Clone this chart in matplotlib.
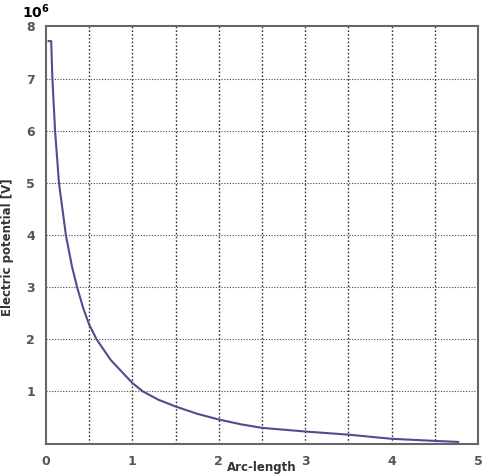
import numpy as np
import matplotlib
matplotlib.use("Agg")
import matplotlib.pyplot as plt

# Data (arc-length vs electric potential in 1e6 V)
arc_length = [0.03, 0.06, 0.074, 0.105, 0.15, 0.23, 0.30, 0.36, 0.43, 0.50, 0.585,
              0.75, 1.00, 1.12, 1.30, 1.50, 1.75, 2.00, 2.25, 2.50, 3.00, 3.50,
              4.00, 4.50, 4.77]
potential = [7.72, 7.72, 7.00, 6.00, 5.00, 4.00, 3.40, 3.00, 2.60, 2.28, 2.00,
             1.60, 1.16, 1.00, 0.84, 0.71, 0.57, 0.46, 0.37, 0.30, 0.23, 0.17,
             0.09, 0.05, 0.03]

x_ticks = [0, 1, 2, 3, 4, 5]
y_ticks = [1, 2, 3, 4, 5, 6, 7, 8]
x_grid = [0.5, 1.0, 1.5, 2.0, 2.5, 3.0, 3.5, 4.0, 4.5]
y_grid = [1, 2, 3, 4, 5, 6, 7]

W, H = 484, 474
fig = plt.figure(figsize=(W/100, H/100), dpi=100)
L, R, T, B = 46, 478, 26.5, 443.5
ax = fig.add_axes([L/W, 1-B/H, (R-L)/W, (B-T)/H])

ax.plot(arc_length, potential, color="#4d4d8f", lw=1.5, solid_joinstyle="round")

ax.set_xlim(0, 5)
ax.set_ylim(0, 8)
ax.set_xticks(x_ticks)
ax.set_yticks(y_ticks)
for g in x_grid:
    ax.axvline(g, color="#333333", lw=1.0, ls=(0, (1.2, 1.5)), zorder=0)
for g in y_grid:
    ax.axhline(g, color="#444444", lw=0.8, ls=(0, (1, 1.5)), zorder=0)

ax.tick_params(length=0, labelsize=9, labelcolor="#555555", pad=8)
for lab in ax.get_xticklabels() + ax.get_yticklabels():
    lab.set_fontweight("bold")
for s in ax.spines.values():
    s.set_color("#666666")
    s.set_linewidth(1.5)

fig.text(262/W, 0.5/H, "Arc-length", fontsize=8.5, color="#333333",
         fontweight="bold", ha="center", va="bottom")
fig.text(7.5/W, 1-247/H, "Electric potential [V]", fontsize=8.5, color="#333333",
         fontweight="bold", rotation=90, ha="center", va="center")

fig.text(22/W, 1-12/H, r"$\mathbf{10^6}$", fontsize=10, family="serif",
         va="center", ha="left")

fig.savefig("out.png", dpi=100)
